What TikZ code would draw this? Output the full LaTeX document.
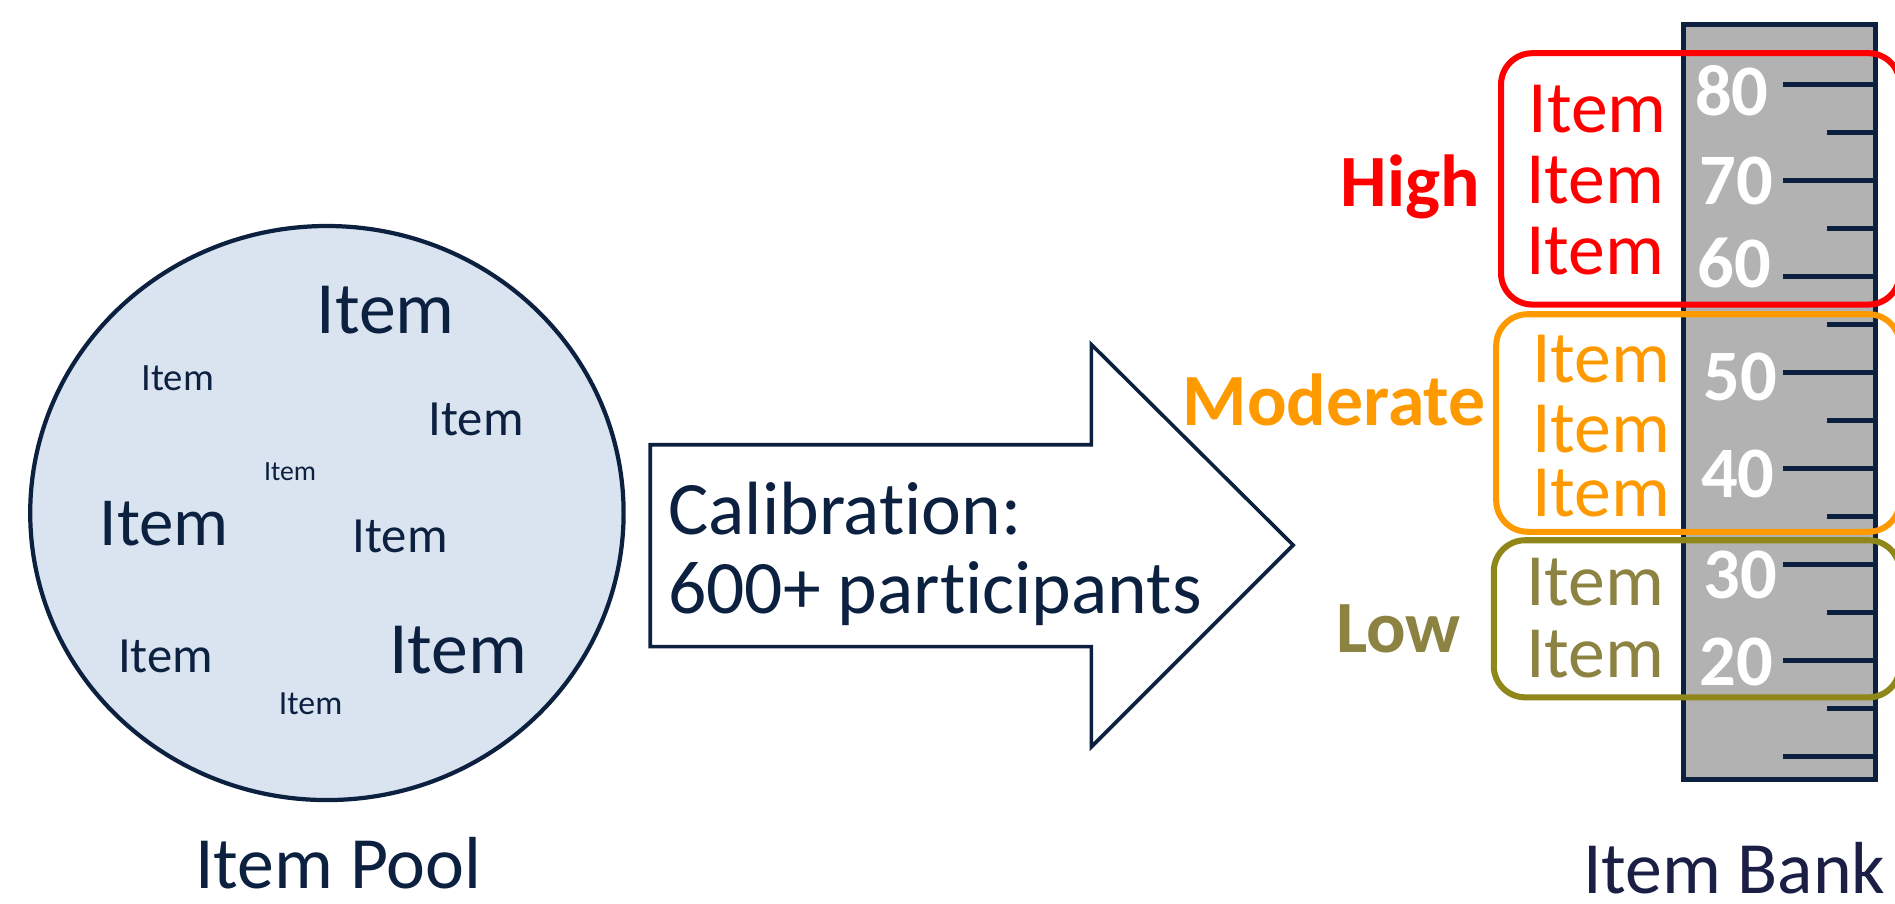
\documentclass[tikz,border=0pt]{standalone}
\usepackage{fontspec}
\usetikzlibrary{shapes.geometric}
\setmainfont[Ligatures={NoCommon,NoRequired,NoContextual}]{Carlito}
\definecolor{navy}{RGB}{12,32,64}
\definecolor{banknavy}{RGB}{27,31,69}
\definecolor{poolfill}{RGB}{218,227,240}
\definecolor{rulergray}{RGB}{178,178,178}
\definecolor{hired}{RGB}{255,0,0}
\definecolor{modorange}{RGB}{255,153,0}
\definecolor{lowtext}{RGB}{140,130,66}
\definecolor{lowline}{RGB}{143,135,25}
\newcommand{\fsz}[1]{\fontsize{#1}{#1}\selectfont}
\begin{document}
\begin{tikzpicture}[x=1pt,y=-1pt,
  txt/.style={inner sep=0pt,outer sep=0pt},
  poolitem/.style={txt,text=navy},
  levelbox/.style={line width=5pt,rounded corners=26pt},
  leveltxt/.style={txt,anchor=base,font=\fsz{61}\bfseries},
  scalenum/.style={txt,text=white,font=\fsz{60}\bfseries},
  majortick/.style={draw=navy,line width=4.5pt},
  minortick/.style={draw=navy,line width=4.5pt}]
\useasboundingbox (0,0) rectangle (1568,748);

% item pool
\node[draw=navy,fill=poolfill,line width=3.5pt,ellipse,minimum width=491pt,minimum height=475pt,inner sep=0pt] (pool) at (270.5,424.5) {};
\node[poolitem,font=\fsz{61}] (p1) at (319,257) {Item};
\node[poolitem,font=\fsz{32}] (p2) at (147,313) {Item};
\node[poolitem,font=\fsz{42}] (p3) at (394,347) {Item};
\node[poolitem,font=\fsz{23}] (p4) at (240,390) {Item};
\node[poolitem,font=\fsz{57}] (p5) at (136,433) {Item};
\node[poolitem,font=\fsz{42}] (p6) at (331,444) {Item};
\node[poolitem,font=\fsz{42}] (p7) at (137,543) {Item};
\node[poolitem,font=\fsz{61}] (p8) at (379,538) {Item};
\node[poolitem,font=\fsz{28}] (p9) at (257,582) {Item};
\node[txt,text=navy,font=\fsz{61}] (poolname) at (280,714) {Item Pool};

% calibration arrow
\draw[navy,fill=white,line width=3pt,line join=miter]
  (538,368) -- (903,368) -- (903,285) -- (1070,451) -- (903,618) -- (903,535) -- (538,535) -- cycle;
\node[txt,anchor=base west,text=navy,font=\fsz{62.5}] (calib) at (553,442) {Calibration:};
\node[txt,anchor=base west,text=navy,font=\fsz{62.5}] (parts) at (553,508) {600+ participants};

% item bank scale
\fill[rulergray] (1393,20) rectangle (1552,645);
\foreach \k in {0,...,7}
  \draw[majortick] (1475,{70+79.4*\k}) -- (1552,{70+79.4*\k});
\foreach \k in {0,...,6}
  \draw[minortick] (1512,{109.7+79.4*\k}) -- (1552,{109.7+79.4*\k});
\draw[navy,line width=4pt] (1393,20) rectangle (1552,645);
\node[scalenum] (n80) at (1433,75) {80};
\node[scalenum] (n70) at (1437,150) {70};
\node[scalenum] (n60) at (1435,218) {60};
\node[scalenum] (n50) at (1440,312) {50};
\node[scalenum] (n40) at (1438,392) {40};
\node[scalenum] (n30) at (1440,476) {30};
\node[scalenum] (n20) at (1437,548) {20};

% difficulty bands
\draw[levelbox,hired] (1242,44) rectangle (1572,252);
\draw[levelbox,modorange] (1238,260) rectangle (1572,440);
\draw[levelbox,lowline] (1236,447) rectangle (1572,577);

\node[txt,text=hired,font=\fsz{61}] (h1) at (1322,90) {Item};
\node[txt,text=hired,font=\fsz{61}] (h2) at (1320,149) {Item};
\node[txt,text=hired,font=\fsz{61}] (h3) at (1320,208) {Item};
\node[txt,text=modorange,font=\fsz{61}] (m1) at (1325,297) {Item};
\node[txt,text=modorange,font=\fsz{61}] (m2) at (1325,355) {Item};
\node[txt,text=modorange,font=\fsz{61}] (m3) at (1325,408) {Item};
\node[txt,text=lowtext,font=\fsz{61}] (l1) at (1320,482) {Item};
\node[txt,text=lowtext,font=\fsz{61}] (l2) at (1320,541) {Item};

\node[leveltxt,text=hired] (high) at (1167,171) {High};
\node[leveltxt,text=modorange] (mod) at (1104,352) {Moderate};
\node[leveltxt,text=lowtext] (low) at (1157,540) {Low};

\node[txt,text=banknavy,font=\fsz{61}] (bankname) at (1435,718) {Item Bank};
\end{tikzpicture}
\end{document}
